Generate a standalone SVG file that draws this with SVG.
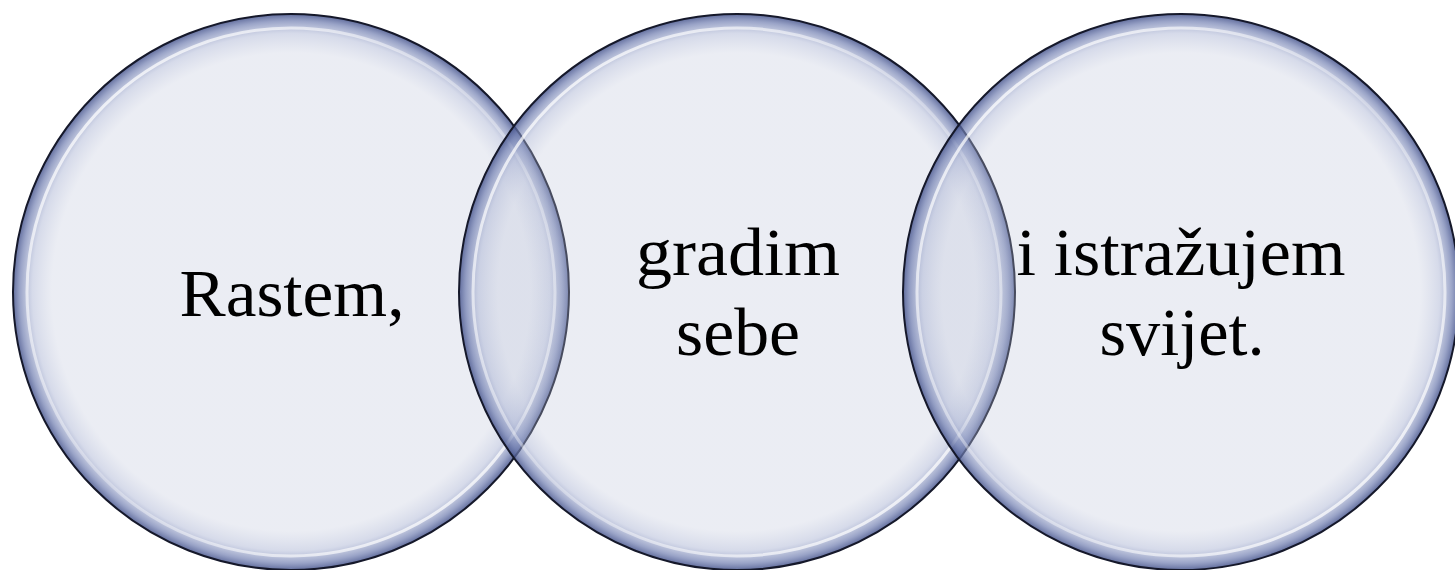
<svg xmlns="http://www.w3.org/2000/svg" width="1455" height="570" viewBox="0 0 1455 570">
<defs>
<radialGradient id="fillG" cx="0.5" cy="0.5" r="0.5">
<stop offset="0" stop-color="#bcc3d9" stop-opacity="0.3"/>
<stop offset="0.86" stop-color="#bcc3d9" stop-opacity="0.3"/>
<stop offset="0.93" stop-color="#a4aed0" stop-opacity="0.45"/>
<stop offset="0.975" stop-color="#6f7db0" stop-opacity="0.7"/>
<stop offset="1" stop-color="#46548c" stop-opacity="0.85"/>
</radialGradient>
<linearGradient id="hiG" x1="0" y1="0" x2="1" y2="1">
<stop offset="0" stop-color="#ffffff" stop-opacity="0.9"/>
<stop offset="0.5" stop-color="#ffffff" stop-opacity="0.3"/>
<stop offset="1" stop-color="#ffffff" stop-opacity="0.9"/>
</linearGradient>
<style>
.c{fill:url(#fillG);stroke:#15182a;stroke-width:2}
.h{fill:none;stroke:url(#hiG);stroke-width:3}
.t{font-family:"Liberation Serif","DejaVu Serif",serif;font-size:67px;fill:#000;text-anchor:middle}
</style>
</defs>
<g id="node1">
<circle class="c" cx="291" cy="292" r="278"/>
<circle class="h" cx="291" cy="292" r="264"/>
<text class="t" x="292" y="316" textLength="225" lengthAdjust="spacingAndGlyphs">Rastem,</text>
</g>
<g id="node2">
<circle class="c" cx="737" cy="292" r="278"/>
<circle class="h" cx="737" cy="292" r="264"/>
<text class="t" x="738" y="275" textLength="204" lengthAdjust="spacingAndGlyphs">gradim</text>
<text class="t" x="738" y="355" textLength="124" lengthAdjust="spacingAndGlyphs">sebe</text>
</g>
<g id="node3">
<circle class="c" cx="1181" cy="292" r="278"/>
<circle class="h" cx="1181" cy="292" r="264"/>
<text class="t" x="1181" y="275" textLength="329" lengthAdjust="spacingAndGlyphs">i istražujem</text>
<text class="t" x="1182" y="355" textLength="165" lengthAdjust="spacingAndGlyphs">svijet.</text>
</g>
<g id="connectors"></g>
</svg>
